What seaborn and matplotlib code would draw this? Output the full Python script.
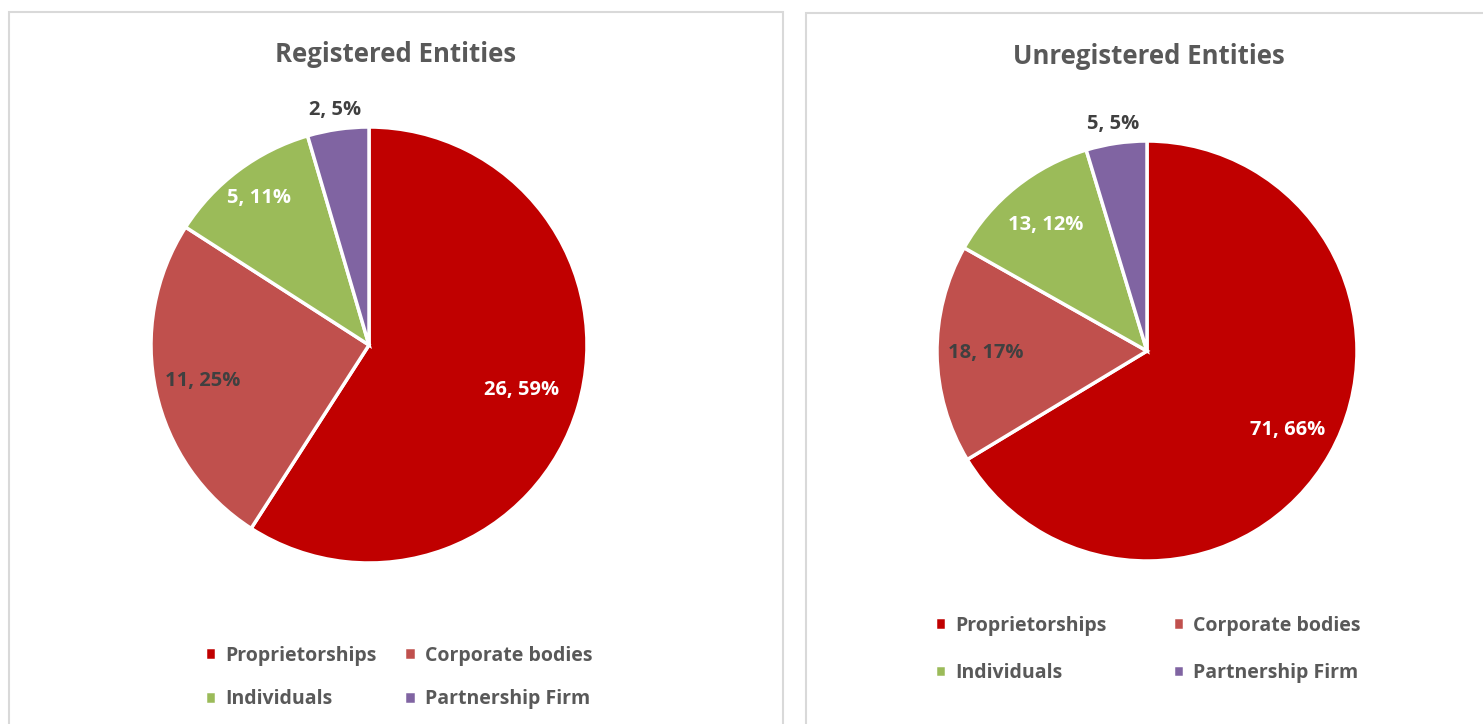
import matplotlib
matplotlib.use("Agg")
import matplotlib.pyplot as plt
import seaborn as sns
import numpy as np
from matplotlib.patches import Rectangle

sns.set_theme(style="white")
FONT = ['Open Sans', 'DejaVu Sans']
plt.rcParams['font.family'] = FONT

categories = ["Proprietorships", "Corporate bodies", "Individuals", "Partnership Firm"]
registered_values = [26, 11, 5, 2]
registered_pct = ["59%", "25%", "11%", "5%"]
unregistered_values = [71, 18, 13, 5]
unregistered_pct = ["66%", "17%", "12%", "5%"]
titles = ["Registered Entities", "Unregistered Entities"]

colors = ["#C00000", "#C0504D", "#9BBB59", "#8064A2"]
label_colors = ["white", "#404040", "white", "#404040"]
W, H = 1483, 724
fig = plt.figure(figsize=(W / 100, H / 100), dpi=100)
fig.patch.set_facecolor("white")

# panel borders
for (x0, y0, x1, y1) in [(9, 12, 783, 740), (806, 13, 1500, 740)]:
    fig.patches.append(Rectangle((x0 / W, 1 - y1 / H), (x1 - x0) / W, (y1 - y0) / H,
                                 transform=fig.transFigure, fill=False,
                                 edgecolor="#D9D9D9", linewidth=1.5, zorder=0))

def draw_pie(cx, cy, r, values, pcts, title, tx, ty, label_dist, leg_anchor, colspace, rowspace):
    ax = fig.add_axes([(cx - r) / W, 1 - (cy + r) / H, 2 * r / W, 2 * r / H])
    wedges, _ = ax.pie(values, colors=colors, startangle=90, counterclock=False,
                       radius=1, wedgeprops=dict(edgecolor="white", linewidth=2.5))
    ax.set_xlim(-1, 1)
    ax.set_ylim(-1, 1)
    ax.set_aspect("equal")
    ax.axis("off")
    for w, v, p, d, c in zip(wedges, values, pcts, label_dist, label_colors):
        ang = np.deg2rad((w.theta1 + w.theta2) / 2)
        ax.text(d * np.cos(ang), d * np.sin(ang), f"{v}, {p}", ha="center", va="center",
                fontsize=14.5, fontweight="bold", color=c, clip_on=False)
    fig.text(tx / W, 1 - ty / H, title, ha="center", va="center",
             fontsize=18.5, fontweight="bold", color="#595959")
    order = [0, 2, 1, 3]  # row-major order in a 2-column legend
    fig.legend([wedges[i] for i in order], [categories[i] for i in order], ncol=2,
               loc="upper left",
               bbox_to_anchor=(leg_anchor[0] / W, 1 - leg_anchor[1] / H),
               frameon=False, handlelength=0.6, handleheight=0.6, handletextpad=0.45,
               columnspacing=colspace, labelspacing=rowspace,
               prop=dict(family=FONT, weight="bold", size=14),
               labelcolor="#595959")

draw_pie(369, 345, 218, registered_values, registered_pct, titles[0], 396, 54,
         [0.73, 0.78, 0.84, 1.09], (187, 628), 1.43, 1.22)
draw_pie(1147, 351, 210, unregistered_values, unregistered_pct, titles[1], 1149, 57,
         [0.77, 0.77, 0.77, 1.095], (917, 598), 3.42, 1.42)

fig.savefig("out.png", dpi=100, facecolor="white")
